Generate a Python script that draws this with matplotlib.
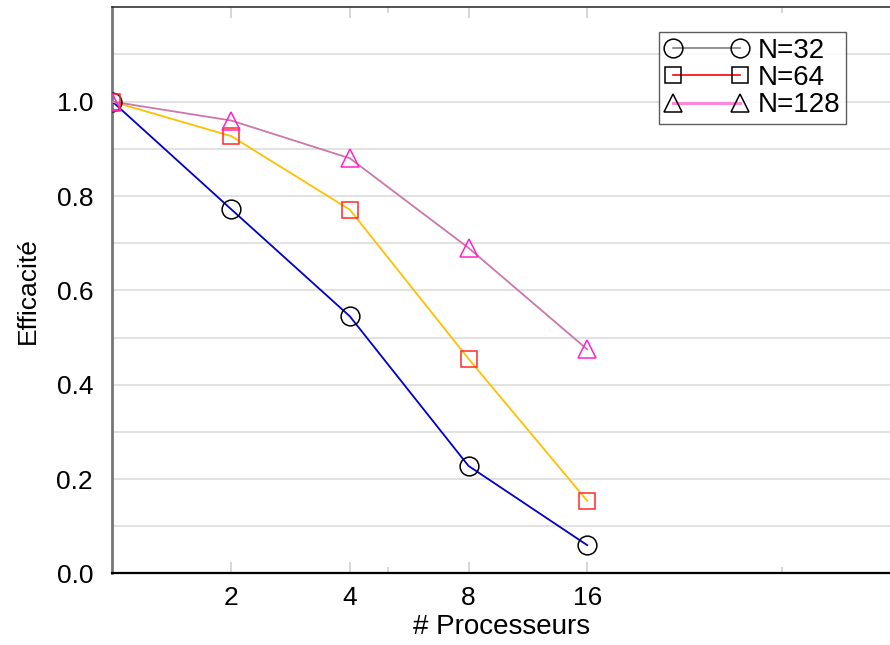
import matplotlib
matplotlib.use("Agg")
import matplotlib.pyplot as plt
from matplotlib.lines import Line2D
from matplotlib.ticker import FixedLocator, NullFormatter

plt.rcParams["font.family"] = ["Liberation Sans", "DejaVu Sans"]

procs = [1, 2, 4, 8, 16]
tick_procs = [2, 4, 8, 16]
minor_procs = [5, 50]
labels = ["N=32", "N=64", "N=128"]
eff_32 = [1.0, 0.772, 0.545, 0.228, 0.060]
eff_64 = [1.0, 0.927, 0.771, 0.455, 0.154]
eff_128 = [1.0, 0.960, 0.880, 0.690, 0.475]

series = [
    (eff_32, "#0000cc", "o", "black", 13.5, "#808080", 1.2),
    (eff_64, "#ffc000", "s", "#ff2a2a", 12, "#ff0000", 1.2),
    (eff_128, "#cc77aa", "^", "#ff22cc", 13.5, "#ff88dd", 2.2),
]

fig = plt.figure(figsize=(8.9, 6.45), dpi=100)
ax = fig.add_axes([0.1264, 0.1109, 0.8736, 0.8778])

for vals, lcol, mk, mcol, ms, _, _ in series:
    ax.plot(procs, vals, color=lcol, lw=1.3, zorder=3)
    ax.plot(procs, vals, ls="none", marker=mk, ms=ms, mfc="none",
            mec=mcol, mew=1.1, zorder=4)

ax.set_xscale("log", base=2)
ax.set_xlim(1, 93.8)
ax.set_ylim(0, 1.2)

ax.xaxis.set_major_locator(FixedLocator(tick_procs))
ax.set_xticklabels([str(p) for p in tick_procs])
ax.xaxis.set_minor_locator(FixedLocator(minor_procs))
ax.xaxis.set_minor_formatter(NullFormatter())
ax.tick_params(axis="x", which="major", direction="in", length=8, width=1.2,
               color="#d0d0d0", top=True, labelsize=19, pad=9)
ax.tick_params(axis="x", which="minor", direction="in", length=4.5, width=1.2,
               color="#d0d0d0", top=True)

ax.set_yticks([0.0, 0.2, 0.4, 0.6, 0.8, 1.0])
ax.set_yticklabels(["0.0", "0.2", "0.4", "0.6", "0.8", "1.0"])
ax.set_yticks([0.1, 0.3, 0.5, 0.7, 0.9, 1.1], minor=True)
ax.tick_params(axis="y", which="both", length=0, labelsize=19, pad=14)
ax.grid(axis="y", which="both", color="#dddddd", lw=1.2, zorder=0)
ax.set_axisbelow(True)

ax.spines["right"].set_visible(False)
ax.spines["top"].set_color("#333333")
ax.spines["top"].set_linewidth(1.2)
ax.spines["bottom"].set_color("black")
ax.spines["bottom"].set_linewidth(1.6)
ax.spines["left"].set_color("#777777")
ax.spines["left"].set_linewidth(2)

ax.set_xlabel("# Processeurs", fontsize=20, labelpad=3)
ax.set_ylabel("Efficacité", fontsize=19, labelpad=12)

handles = [
    Line2D([0], [0], color=hcol, lw=hlw, marker=mk, ms=ms, mfc="none",
           mec="black", mew=1.1)
    for _, _, mk, _, ms, hcol, hlw in series
]
leg = fig.legend(handles, labels, loc="upper left",
                 bbox_to_anchor=(659 / 890, 1 - 32 / 645), numpoints=2,
                 fontsize=20, frameon=True, fancybox=False, borderaxespad=0,
                 borderpad=0.2, handlelength=3.0, handletextpad=0.35,
                 labelspacing=0.05)
leg.get_frame().set_edgecolor("#333333")
leg.get_frame().set_linewidth(1.0)

fig.savefig("out.png", dpi=100)
